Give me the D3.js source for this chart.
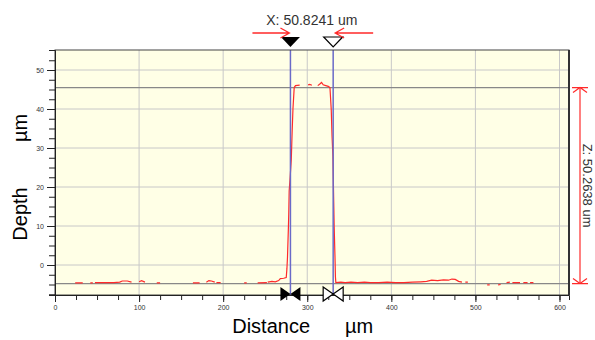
<!DOCTYPE html>
<html>
<head>
<meta charset="utf-8">
<script src="https://cdn.jsdelivr.net/npm/d3@7"></script>
<style>
  body { margin: 0; background: #fff; }
  svg { display: block; font-family: "Liberation Sans", Arial, sans-serif; }
</style>
</head>
<body>
<div id="chart"></div>
<script>
// profile trace (distance in um, depth in um); null = no data
const profileX = [
  24, 33, null, 42, 45, null,
  47.5, 60, 70, 77, 80, 86, 91, null,
  100, 103, 107, null, 121, 125, null,
  164, 172, null, 180, 183, 186, 190, null, 192, 197, null,
  225, 228, null, 241, 252, null,
  253, 258, 262, 266, 268, 272, 275, 275.8, 276.5, 277.5, 278, 278.5, 279.5, 281, 282, 283, 284.5, 286, 291, null,
  301, 303, 305.5, null,
  312.5, 315, 317, 319, 322, 325, 327, 328.5, 329.5, 330.5, 331.5, 332, 333, 333.5, 334,
  340, 345, 352, 360, 368, 375, 385, 395, 405, 415, 425, 435, 442, 448, 455, 462, 468, 472, 476, 480, 484, null,
  488, 491, null, 514, 517, null, 527, 530, null, 537, 541, null,
  544, 553, null, 557, 562, null, 565, 569
];
const profileZ = [
  -4.6, -4.6, null, -4.6, -4.6, null,
  -4.5, -4.5, -4.5, -4.4, -4.1, -4.1, -4.4, null,
  -4.3, -4.0, -4.4, null, -4.6, -4.6, null,
  -4.6, -4.6, null, -4.4, -4.0, -4.1, -4.4, null, -4.5, -4.5, null,
  -4.6, -4.6, null, -4.6, -4.5, null,
  -4.4, -4.2, -4.3, -4.0, -3.5, -3.4, -3.2, -1.0, 2, 9, 13, 19, 22, 27, 34, 40, 45.5, 46.0, 46.1, null,
  46.2, 46.3, 46.1, null,
  46.0, 46.4, 46.8, 46.2, 46.0, 45.8, 45.5, 40, 33, 28, 16, 10, 2, -3, -4.5,
  -4.4, -4.5, -4.4, -4.5, -4.4, -4.5, -4.5, -4.4, -4.5, -4.5, -4.4, -4.3, -4.2, -3.9, -4.0, -3.8, -3.9, -3.6, -3.7, -4.2, -4.4, null,
  -4.4, -4.4, null, -5.1, -5.1, null, -5.1, -5.0, null, -4.5, -4.4, null,
  -4.5, -4.5, null, -4.5, -4.5, null, -4.5, -4.5
];

const xTicks = [0, 100, 200, 300, 400, 500, 600];
const yTicks = [0, 10, 20, 30, 40, 50];

// cursors and reference levels
const cursorX = [280.0, 330.8241];
const refZ = [45.5, -4.7638];
const xLabel = 'X: 50.8241 um';
const zLabel = 'Z: 50.2638 um';

const width = 595;
const height = 340;
const marginLeft = 55, marginRight = 26, marginTop = 50, marginBottom = 45;

const svg = d3.select('#chart').append('svg')
  .attr('width', width)
  .attr('height', height);

const x = d3.scaleLinear()
  .domain([0, 611.3])
  .range([marginLeft, width - marginRight]);

const y = d3.scaleLinear()
  .domain([-7.69, 55.13])
  .range([height - marginBottom, marginTop]);

// plot background
svg.append('rect')
  .attr('x', x(0)).attr('y', y(55.13))
  .attr('width', x(611.3) - x(0))
  .attr('height', y(-7.69) - y(55.13))
  .attr('fill', '#ffffe6');

// grid
svg.append('g')
  .attr('stroke', '#c8c8c8').attr('stroke-width', 1)
  .call(g => g.selectAll('line.v').data(xTicks.slice(1)).join('line')
    .attr('x1', d => x(d)).attr('x2', d => x(d))
    .attr('y1', y(55.13)).attr('y2', y(-7.69)))
  .call(g => g.selectAll('line.h').data(yTicks).join('line')
    .attr('class', 'h')
    .attr('x1', x(0)).attr('x2', x(611.3))
    .attr('y1', d => y(d)).attr('y2', d => y(d)));

// reference levels
svg.append('g').selectAll('line').data(refZ).join('line')
  .attr('x1', x(0)).attr('x2', x(611.3))
  .attr('y1', d => y(d)).attr('y2', d => y(d))
  .attr('stroke', '#888').attr('stroke-width', 1.3);

// profile
const line = d3.line()
  .defined((d, i) => profileX[i] !== null && profileZ[i] !== null)
  .x((d, i) => x(profileX[i]))
  .y((d, i) => y(profileZ[i]));

svg.append('path')
  .datum(profileX)
  .attr('fill', 'none')
  .attr('stroke', '#ff2a2a')
  .attr('stroke-width', 1.2)
  .attr('d', line);

// cursor lines
svg.append('g').selectAll('line').data(cursorX).join('line')
  .attr('x1', d => x(d)).attr('x2', d => x(d))
  .attr('y1', y(55.13)).attr('y2', y(-7.69))
  .attr('stroke', '#6a6ac8').attr('stroke-width', 1.5);

// frame
svg.append('rect')
  .attr('x', x(0)).attr('y', y(55.13))
  .attr('width', x(611.3) - x(0))
  .attr('height', y(-7.69) - y(55.13))
  .attr('fill', 'none').attr('stroke', '#444').attr('stroke-width', 1);
svg.append('line')
  .attr('x1', x(611.3)).attr('x2', x(611.3))
  .attr('y1', y(55.13)).attr('y2', y(-7.69))
  .attr('stroke', '#333').attr('stroke-width', 2);

// axes
const yAxis = svg.append('g')
  .attr('transform', `translate(${x(0)},0)`)
  .call(d3.axisLeft(y).tickValues(d3.range(-7.5, 55, 2.5)).tickSize(6).tickFormat(''))
  .call(g => g.select('.domain').attr('stroke', '#222'));
yAxis.selectAll('.tick line').attr('stroke', '#222');
svg.append('g')
  .attr('transform', `translate(${x(0)},0)`)
  .call(d3.axisLeft(y).tickValues(yTicks).tickSize(8).tickPadding(3))
  .call(g => g.select('.domain').remove())
  .call(g => g.selectAll('.tick line').attr('stroke', '#222'))
  .call(g => g.selectAll('.tick text').attr('font-size', 7).attr('fill', '#333')
    .attr('font-family', '"Liberation Sans", Arial, sans-serif'));

const xAxis = svg.append('g')
  .attr('transform', `translate(0,${y(-7.69)})`)
  .call(d3.axisBottom(x).tickValues(d3.range(0, 611, 25)).tickSize(5).tickFormat(''))
  .call(g => g.select('.domain').attr('stroke', '#222'));
xAxis.selectAll('.tick line').attr('stroke', '#222');
svg.append('g')
  .attr('transform', `translate(0,${y(-7.69)})`)
  .call(d3.axisBottom(x).tickValues(xTicks).tickSize(7).tickPadding(3))
  .call(g => g.select('.domain').remove())
  .call(g => g.selectAll('.tick line').attr('stroke', '#222'))
  .call(g => g.selectAll('.tick text').attr('font-size', 7).attr('fill', '#333')
    .attr('font-family', '"Liberation Sans", Arial, sans-serif'));

// axis titles
svg.append('text')
  .attr('x', 310).attr('y', 333)
  .attr('text-anchor', 'end')
  .attr('font-size', 20).attr('fill', '#000')
  .text('Distance');
svg.append('text')
  .attr('x', 345).attr('y', 333)
  .attr('font-size', 20).attr('fill', '#000')
  .text('µm');
svg.append('text')
  .attr('transform', 'translate(27,214) rotate(-90)')
  .attr('text-anchor', 'middle')
  .attr('font-size', 20).attr('fill', '#000')
  .text('Depth');
svg.append('text')
  .attr('transform', 'translate(27,128) rotate(-90)')
  .attr('text-anchor', 'middle')
  .attr('font-size', 20).attr('fill', '#000')
  .text('µm');

// cursor markers on top
const tri = (cx, top) => `M${cx - 9.5},${top}L${cx + 9.5},${top}L${cx},${top + 10}Z`;
svg.append('path').attr('d', tri(x(cursorX[0]), 37)).attr('fill', '#000');
svg.append('path').attr('d', tri(x(cursorX[1]), 37))
  .attr('fill', '#fff').attr('stroke', '#000').attr('stroke-width', 1.2);

// cursor markers at bottom (bow ties)
const bow = (cx, cy) => `M${cx - 10},${cy - 7}L${cx},${cy}L${cx - 10},${cy + 7}Z` +
  `M${cx + 10},${cy - 7}L${cx},${cy}L${cx + 10},${cy + 7}Z`;
svg.append('path').attr('d', bow(x(cursorX[0]), 294)).attr('fill', '#000');
svg.append('path').attr('d', bow(x(cursorX[1]), 294))
  .attr('fill', '#fff').attr('stroke', '#000').attr('stroke-width', 1.2);

// red arrows pointing at cursors
const arrows = svg.append('g').attr('stroke', '#ff2a2a').attr('stroke-width', 1.3).attr('fill', 'none');
const ax0 = x(cursorX[0]) - 1, ax1 = x(cursorX[1]) + 2;
arrows.append('path').attr('d', `M${ax0 - 37},33L${ax0},33M${ax0 - 9},28L${ax0},33L${ax0 - 9},38`);
arrows.append('path').attr('d', `M${ax1 + 38},33L${ax1},33M${ax1 + 9},28L${ax1},33L${ax1 + 9},38`);

svg.append('text')
  .attr('x', (x(cursorX[0]) + x(cursorX[1])) / 2)
  .attr('y', 25)
  .attr('text-anchor', 'middle')
  .attr('font-size', 14).attr('fill', '#333')
  .text(xLabel);

// Z dimension arrow
const zx = 580, zTop = y(refZ[0]), zBot = y(refZ[1]);
const zArrow = svg.append('g').attr('stroke', '#ff2a2a').attr('stroke-width', 1.2).attr('fill', 'none');
zArrow.append('path').attr('d', `M${zx},${zTop}L${zx},${zBot}`);
zArrow.append('path').attr('d', `M${zx - 8},${zTop}L${zx + 8},${zTop}M${zx - 7},${zTop + 5}L${zx},${zTop}L${zx + 7},${zTop + 5}`);
zArrow.append('path').attr('d', `M${zx - 8},${zBot}L${zx + 8},${zBot}M${zx - 7},${zBot - 5}L${zx},${zBot}L${zx + 7},${zBot - 5}`);

svg.append('text')
  .attr('transform', `translate(583,${(zTop + zBot) / 2}) rotate(90)`)
  .attr('text-anchor', 'middle')
  .attr('font-size', 13).attr('fill', '#333')
  .text(zLabel);
</script>
</body>
</html>
